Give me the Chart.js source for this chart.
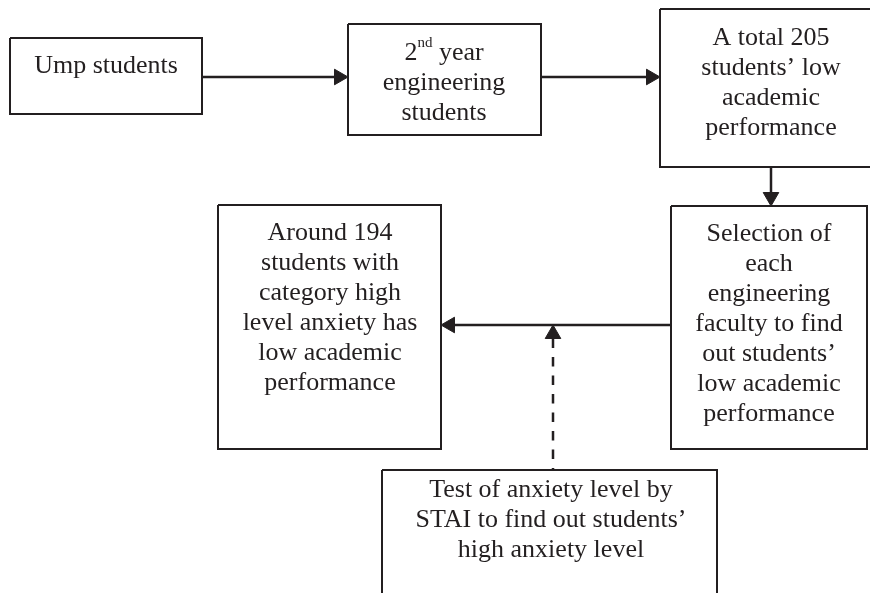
<!DOCTYPE html>
<html>
<head>
<meta charset="utf-8">
<script src="https://cdn.jsdelivr.net/npm/chart.js@4/dist/chart.umd.min.js"></script>
<style>
    html, body { margin: 0; padding: 0; background: #fff; }
    canvas { display: block; }
</style>
</head>
<body>
<canvas id="flowChart" width="870" height="593"></canvas>
<script>
// boxes of the flow: left, right, top, bottom (page units, y grows downward)
const boxLeft   = [10, 348, 660, 671, 218, 382]
const boxRight  = [202, 541, 880, 867, 441, 717]
const boxTop    = [38, 24, 9, 206, 205, 470]
const boxBottom = [114, 135, 167, 449, 449, 600]

// text of each box, one entry per line ( ^{..} = superscript )
const boxLines = [
    ['Ump students'],
    ['2^{nd} year', 'engineering', 'students'],
    ['A total 205', 'students\u2019 low', 'academic', 'performance'],
    ['Selection of', 'each', 'engineering', 'faculty to find', 'out students\u2019', 'low academic', 'performance'],
    ['Around 194', 'students with', 'category high', 'level anxiety has', 'low academic', 'performance'],
    ['Test of anxiety level by', 'STAI to find out students\u2019', 'high anxiety level']
]
const textCenterX   = [106, 444, 771, 769, 330, 551]
const textFirstLine = [73, 60, 45, 241, 240, 497]

// connectors: from point -> to point (arrowhead at "to")
const arrowFromX = [202, 541, 771, 671, 553]
const arrowFromY = [77, 77, 167, 325, 470]
const arrowToX   = [348, 660, 771, 441, 553]
const arrowToY   = [77, 77, 206, 325, 325]
const arrowDashed = [false, false, false, false, true]

const ink = '#231f20'
const headSize = 9
const lineStep = 30

const boxDatasets = boxLeft.map((l, i) => ({
    data: [
        { x: l, y: boxTop[i] },
        { x: boxRight[i], y: boxTop[i] },
        { x: boxRight[i], y: boxBottom[i] },
        { x: l, y: boxBottom[i] },
        { x: l, y: boxTop[i] }
    ],
    showLine: true,
    borderColor: ink,
    borderWidth: 2,
    borderJoinStyle: 'miter',
    pointRadius: 0,
    fill: false
}))

// shaft stops at the base of the head; head is a rotated triangle point
const arrowDatasets = []
arrowFromX.forEach((fx, i) => {
    const dx = arrowToX[i] - fx, dy = arrowToY[i] - arrowFromY[i]
    const len = Math.hypot(dx, dy)
    const ux = dx / len, uy = dy / len
    const baseX = arrowToX[i] - ux * headSize * 1.5
    const baseY = arrowToY[i] - uy * headSize * 1.5
    arrowDatasets.push({
        data: [{ x: baseX, y: baseY }, { x: fx, y: arrowFromY[i] }],
        showLine: true,
        borderColor: ink,
        borderWidth: 2.5,
        borderDash: arrowDashed[i] ? [9.5, 9] : [],
        pointRadius: 0
    })
    arrowDatasets.push({
        data: [{ x: arrowToX[i] - ux * headSize, y: arrowToY[i] - uy * headSize }],
        pointStyle: 'triangle',
        pointRadius: headSize,
        rotation: Math.atan2(ux, -uy) * 180 / Math.PI,
        backgroundColor: ink,
        borderColor: ink,
        borderWidth: 1
    })
})

const drawLine = (ctx, line, cx, baseY) => {
    const parts = line.split(/(\^\{[^}]*\})/).filter(p => p)
    const big = '26px "Liberation Serif", "Times New Roman", serif'
    const small = '15px "Liberation Serif", "Times New Roman", serif'
    const widths = parts.map(p => {
        ctx.font = p.startsWith('^') ? small : big
        return ctx.measureText(p.startsWith('^') ? p.slice(2, -1) : p).width
    })
    let x = cx - widths.reduce((a, b) => a + b, 0) / 2
    parts.forEach((p, k) => {
        const sup = p.startsWith('^')
        ctx.font = sup ? small : big
        ctx.fillText(sup ? p.slice(2, -1) : p, x, sup ? baseY - 13 : baseY)
        x += widths[k]
    })
}

const boxText = {
    id: 'boxText',
    afterDatasetsDraw(chart) {
        const { ctx, scales: { x, y } } = chart
        ctx.save()
        ctx.fillStyle = ink
        ctx.textAlign = 'left'
        ctx.textBaseline = 'alphabetic'
        boxLines.forEach((lines, i) => {
            lines.forEach((line, j) => {
                drawLine(ctx, line, x.getPixelForValue(textCenterX[i]),
                    y.getPixelForValue(textFirstLine[i] + j * lineStep))
            })
        })
        ctx.restore()
    }
}

new Chart('flowChart', {
    type: 'scatter',
    data: { datasets: [...boxDatasets, ...arrowDatasets] },
    options: {
        responsive: false,
        animation: false,
        layout: { padding: 0, autoPadding: false },
        plugins: {
            legend: { display: false },
            tooltip: { enabled: false }
        },
        scales: {
            x: { type: 'linear', min: 0, max: 870, display: false },
            y: { type: 'linear', min: 0, max: 593, reverse: true, display: false }
        }
    },
    plugins: [boxText]
})
</script>
</body>
</html>
